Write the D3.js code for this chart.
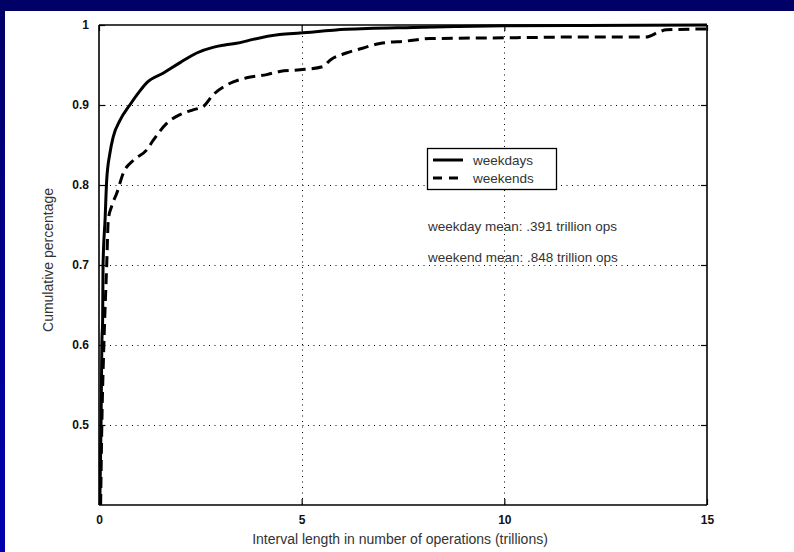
<!DOCTYPE html>
<html><head><meta charset="utf-8">
<script src="https://cdn.jsdelivr.net/npm/d3@7"></script>
<style>body{margin:0;padding:0;background:#fff;} svg{display:block;}</style>
</head><body>
<svg id="c" width="794" height="552"></svg>
<script>
const weekdayX = [0.02,0.05,0.07,0.09,0.10,0.15,0.19,0.27,0.35,0.52,0.76,1.0,1.18,1.59,2.0,2.41,2.81,3.1,3.48,3.8,4.46,4.96,6.1,7.75,8.8,10.0,12.0,15.0];
const weekdayY = [0.40,0.50,0.60,0.632,0.70,0.757,0.806,0.84,0.86,0.881,0.90,0.917,0.928,0.94,0.953,0.965,0.972,0.975,0.978,0.982,0.988,0.990,0.9946,0.997,0.998,0.999,0.9995,1.0];
const weekendX = [0.04,0.07,0.12,0.19,0.23,0.31,0.44,0.6,0.85,1.18,1.34,1.67,2.0,2.32,2.57,2.82,3.15,3.64,4.14,4.46,4.96,5.52,5.7,6.1,6.5,6.93,7.59,8.16,10.0,12.0,13.5,13.83,14.0,15.0];
const weekendY = [0.40,0.50,0.60,0.70,0.757,0.773,0.79,0.815,0.831,0.844,0.856,0.877,0.888,0.894,0.898,0.913,0.925,0.934,0.938,0.942,0.944,0.948,0.956,0.965,0.971,0.977,0.98,0.983,0.984,0.985,0.985,0.9917,0.994,0.995];
const xTicks = [0,5,10,15];
const yTicks = [0.5,0.6,0.7,0.8,0.9,1];
const yTickLabels = ["0.5","0.6","0.7","0.8","0.9","1"];
const seriesNames = ["weekdays","weekends"];
const notes = ["weekday mean: .391 trillion ops","weekend mean: .848 trillion ops"];
const xTitle = "Interval length in number of operations (trillions)";
const yTitle = "Cumulative percentage";

const svg = d3.select("#c");
const W = 794, H = 552;
const defs = svg.append("defs");
const g1 = defs.append("linearGradient").attr("id","lg").attr("x1",0).attr("y1",0).attr("x2",0).attr("y2",1);
g1.append("stop").attr("offset","0%").attr("stop-color","#000068");
g1.append("stop").attr("offset","100%").attr("stop-color","#0000b0");
svg.append("rect").attr("x",0).attr("y",0).attr("width",W).attr("height",H).attr("fill","url(#lg)");
svg.append("rect").attr("x",0).attr("y",0).attr("width",W).attr("height",11).attr("fill","#000066");
svg.append("rect").attr("x",5).attr("y",11).attr("width",W-5).attr("height",H-11).attr("fill","#fff");

const L=99, R=707, T=25, B=505;
const x = d3.scaleLinear().domain([0,15]).range([L,R]);
const y = d3.scaleLinear().domain([0.4,1]).range([B,T]);
const font = "'Liberation Sans', Arial, sans-serif";

// grid
const grid = svg.append("g").attr("stroke","#000").attr("stroke-width",1).attr("stroke-dasharray","1,4.5");
grid.selectAll("line.h").data(yTicks.filter(v=>v<1)).join("line")
  .attr("x1",L).attr("x2",R).attr("y1",d=>Math.round(y(d))+0.5).attr("y2",d=>Math.round(y(d))+0.5);
grid.selectAll("line.v").data(xTicks.filter(v=>v>0&&v<15)).join("line").attr("class","v")
  .attr("y1",T).attr("y2",B).attr("x1",d=>Math.round(x(d))+0.5).attr("x2",d=>Math.round(x(d))+0.5);

// axes with inward ticks
const axB = d3.axisBottom(x).tickValues(xTicks).tickSize(-6).tickPadding(10).tickFormat(d3.format("d"));
const axL = d3.axisLeft(y).tickValues(yTicks).tickSize(-6).tickPadding(10).tickFormat((d,i)=>yTickLabels[i]);
const axT = d3.axisTop(x).tickValues(xTicks).tickSize(-6).tickFormat("");
const axR = d3.axisRight(y).tickValues(yTicks).tickSize(-6).tickFormat("");
function style(g){
  g.selectAll("path.domain").attr("stroke","#000").attr("stroke-width",1.6);
  g.selectAll(".tick line").attr("stroke","#000").attr("stroke-width",1.2);
  g.selectAll("text").attr("font-family",font).attr("font-size","12px").attr("font-weight","bold").attr("fill","#111");
}
svg.append("g").attr("transform",`translate(0,${B})`).call(axB).call(style).call(g=>g.selectAll(".domain").attr("d",`M${L},0H${R}`));
svg.append("g").attr("transform",`translate(${L},0)`).call(axL).call(style).call(g=>g.selectAll(".domain").attr("d",`M0,${B}V${T}`));
svg.append("g").attr("transform",`translate(0,${T})`).call(axT).call(style).call(g=>g.selectAll(".domain").attr("d",`M${L},0H${R}`));
svg.append("g").attr("transform",`translate(${R},0)`).call(axR).call(style).call(g=>g.selectAll(".domain").attr("d",`M0,${B}V${T}`));

// lines
const line = d3.line().x(d=>x(d[0])).y(d=>y(d[1])).curve(d3.curveMonotoneX);
const clip = defs.append("clipPath").attr("id","cp").append("rect").attr("x",L).attr("y",T-2).attr("width",R-L).attr("height",B-T+2);
const wd = weekdayX.map((v,i)=>[v,weekdayY[i]]);
const we = weekendX.map((v,i)=>[v,weekendY[i]]);
svg.append("path").datum(wd).attr("d",line).attr("fill","none").attr("stroke","#000").attr("stroke-width",3).attr("clip-path","url(#cp)");
svg.append("path").datum(we).attr("d",line).attr("fill","none").attr("stroke","#000").attr("stroke-width",3).attr("stroke-dasharray","11,6").attr("clip-path","url(#cp)");

// legend
const lg = svg.append("g");
lg.append("rect").attr("x",427.5).attr("y",148.5).attr("width",129).attr("height",41).attr("fill","#fff").attr("stroke","#000").attr("stroke-width",1.3);
seriesNames.forEach((n,i)=>{
  const yy = 160 + i*18;
  lg.append("line").attr("x1",433).attr("x2",463).attr("y1",yy).attr("y2",yy).attr("stroke","#000").attr("stroke-width",3)
    .attr("stroke-dasharray", i===1 ? "9,7" : null);
  lg.append("text").attr("x",473).attr("y",yy).attr("dy","0.35em").text(n)
    .attr("font-family",font).attr("font-size","13.5px").attr("fill","#333");
});

// notes
notes.forEach((t,i)=>{
  svg.append("text").attr("x",428).attr("y",226+i*31).attr("dy","0.35em").text(t)
    .attr("font-family",font).attr("font-size","13.5px").attr("fill","#333");
});

// titles
svg.append("text").attr("x",(L+R)/2-3).attr("y",539).attr("dy","0.35em").attr("text-anchor","middle").text(xTitle)
  .attr("font-family",font).attr("font-size","14px").attr("fill","#333");
svg.append("text").attr("transform",`translate(48,${(T+B)/2-5}) rotate(-90)`).attr("dy","0.35em").attr("text-anchor","middle").text(yTitle)
  .attr("font-family",font).attr("font-size","14px").attr("fill","#333");
</script>
</body></html>
